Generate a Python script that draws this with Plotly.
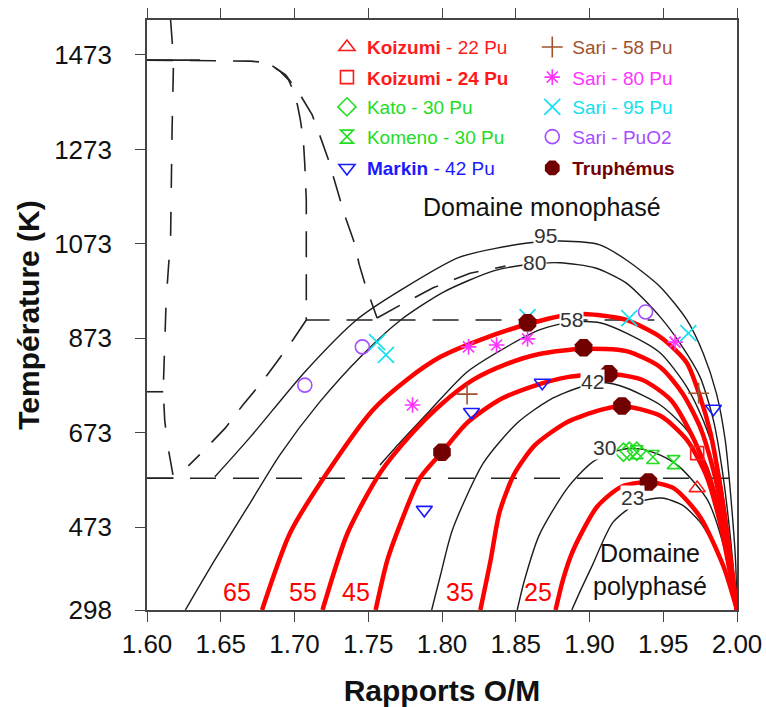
import plotly.graph_objects as go

FONT = "Liberation Sans, Arial, sans-serif"

# ---------------- axes ----------------
x_range = [1.60, 2.00]
t_range = [298, 1547]
x_ticks = [1.60, 1.65, 1.70, 1.75, 1.80, 1.85, 1.90, 1.95, 2.00]
x_ticklabels = ["1.60", "1.65", "1.70", "1.75", "1.80", "1.85", "1.90", "1.95", "2.00"]
t_ticks = [298, 473, 673, 873, 1073, 1273, 1473]
t_ticklabels = ["298", "473", "673", "873", "1073", "1273", "1473"]
t_right_ticks = [609, 922, 1234]

# ---------------- black iso-Pu curves ----------------
iso95_x = [1.646, 1.670, 1.707, 1.742, 1.772, 1.812, 1.858, 1.880, 1.907, 1.925, 1.948, 1.966, 1.977, 1.986, 1.992, 1.996, 1.999, 2.000]
iso95_t = [580, 664, 802, 912, 975, 1045, 1075, 1079, 1071, 1039, 982, 912, 842, 757, 658, 531, 404, 298]
iso80_x = [1.626, 1.646, 1.670, 1.690, 1.717, 1.746, 1.772, 1.801, 1.835, 1.860, 1.880, 1.904, 1.925, 1.948, 1.963, 1.975, 1.984, 1.990, 1.995, 2.000]
iso80_t = [298, 404, 525, 626, 738, 838, 912, 971, 1016, 1030, 1033, 1022, 990, 918, 855, 791, 700, 594, 467, 298]
iso58_x = [1.758, 1.772, 1.792, 1.817, 1.846, 1.866, 1.888, 1.907, 1.925, 1.948, 1.966, 1.977, 1.986, 1.993, 2.000]
iso58_t = [605, 654, 721, 802, 859, 891, 908, 906, 884, 842, 770, 700, 616, 489, 298]
iso42_x = [1.793, 1.799, 1.807, 1.828, 1.851, 1.873, 1.894, 1.911, 1.925, 1.948, 1.966, 1.980, 1.988, 1.995, 2.000]
iso42_t = [298, 372, 467, 609, 694, 743, 770, 779, 768, 732, 679, 601, 510, 404, 298]
iso30_x = [1.851, 1.856, 1.866, 1.885, 1.902, 1.921, 1.934, 1.948, 1.961, 1.980, 1.993, 2.000]
iso30_t = [298, 362, 457, 556, 611, 637, 639, 626, 601, 531, 410, 298]
iso23_x = [1.888, 1.894, 1.902, 1.916, 1.934, 1.949, 1.963, 1.975, 1.986, 1.995, 2.000]
iso23_t = [298, 340, 393, 484, 527, 535, 520, 484, 425, 351, 298]

# ---------------- red curves ----------------
red65_x = [1.678, 1.697, 1.722, 1.753, 1.776, 1.799, 1.826, 1.858, 1.890, 1.907, 1.925, 1.948, 1.966, 1.975, 1.982, 1.988, 1.994, 2.000]
red65_t = [298, 461, 588, 721, 785, 834, 870, 903, 925, 922, 912, 876, 821, 749, 673, 573, 446, 298]
red55_x = [1.719, 1.736, 1.758, 1.780, 1.799, 1.821, 1.844, 1.866, 1.896, 1.925, 1.948, 1.963, 1.975, 1.984, 1.991, 2.000]
red55_t = [298, 461, 588, 673, 732, 785, 819, 840, 851, 846, 812, 757, 685, 594, 489, 298]
red45_x = [1.755, 1.763, 1.772, 1.785, 1.800, 1.817, 1.839, 1.862, 1.885, 1.913, 1.936, 1.955, 1.970, 1.982, 1.990, 2.000]
red45_t = [298, 404, 482, 577, 632, 694, 743, 772, 791, 798, 785, 743, 664, 573, 478, 298]
red35_x = [1.826, 1.833, 1.839, 1.849, 1.863, 1.885, 1.907, 1.922, 1.948, 1.966, 1.979, 1.988, 2.000]
red35_t = [298, 404, 505, 586, 647, 696, 721, 730, 709, 658, 584, 489, 298]
red25_x = [1.877, 1.882, 1.889, 1.905, 1.921, 1.939, 1.957, 1.975, 1.991, 2.000]
red25_t = [298, 362, 425, 516, 558, 569, 556, 495, 389, 298]

# ---------------- dashed phase boundaries ----------------
dashA_x = [1.600, 1.670, 1.677, 1.685, 1.690, 1.696, 1.699, 1.702, 1.704, 1.706, 1.707, 1.708, 1.708, 1.944]
dashA_t = [1462, 1460, 1458, 1450, 1439, 1420, 1399, 1367, 1335, 1293, 1240, 1166, 912, 912]
dashB_x = [1.685, 1.694, 1.704, 1.712, 1.717, 1.723, 1.729, 1.734, 1.740, 1.744, 1.748, 1.753, 1.756]
dashB_t = [1450, 1431, 1388, 1346, 1304, 1251, 1187, 1134, 1081, 1028, 986, 944, 916]
dashC_x = [1.708, 1.699, 1.688, 1.678, 1.665, 1.653, 1.639, 1.628]
dashC_t = [912, 870, 823, 781, 732, 683, 637, 603]
dashD_x = [1.756, 1.772, 1.794, 1.819, 1.843]
dashD_t = [916, 944, 980, 1011, 1026]
dashE_x = [1.616, 1.618, 1.617, 1.616, 1.613, 1.611, 1.612, 1.614, 1.618]
dashE_t = [1547, 1462, 1314, 1088, 954, 764, 700, 647, 577]
dashF_x = [1.600, 1.995]
dashF_t = [577, 577]
stub_x = [[1.600, 1.636], [1.600, 1.611], [1.600, 1.618]]
stub_t = [[1462, 1462], [760, 760], [577, 577]]

# ---------------- experimental points ----------------
koizumi22_x = [1.973]
koizumi22_t = [556]
koizumi24_x = [1.973]
koizumi24_t = [630]
kato30_x = [1.923, 1.927, 1.932]
kato30_t = [632, 634, 634]
komeno30_x = [1.932, 1.943, 1.957]
komeno30_t = [632, 622, 611]
markin42_x = [1.788, 1.820, 1.868, 1.984]
markin42_t = [510, 717, 779, 724]
sari58_x = [1.817, 1.974]
sari58_t = [755, 757]
sari80_x = [1.780, 1.818, 1.837, 1.858, 1.958]
sari80_t = [732, 855, 859, 872, 865]
sari95_x = [1.756, 1.762, 1.858, 1.927, 1.967]
sari95_t = [865, 838, 918, 916, 884]
saripuo2_x = [1.707, 1.746, 1.938]
saripuo2_t = [774, 855, 929]
truphemus_x = [1.800, 1.858, 1.896, 1.913, 1.922, 1.940]
truphemus_t = [632, 906, 853, 798, 730, 569]

# ---------------- labels ----------------
iso_label_text = ["95", "80", "58", "42", "30", "23"]
iso_label_x = [1.870, 1.863, 1.888, 1.902, 1.910, 1.929]
iso_label_t = [1090, 1033, 912, 781, 641, 537]
red_label_text = ["65", "55", "45", "35", "25"]
red_label_x = [1.661, 1.706, 1.742, 1.812, 1.865]
red_label_t = [336, 336, 336, 336, 336]

fig = go.Figure()

BLACK = "#1c1c1c"
for xs, ts in [(iso95_x, iso95_t), (iso80_x, iso80_t), (iso58_x, iso58_t),
               (iso42_x, iso42_t), (iso30_x, iso30_t), (iso23_x, iso23_t)]:
    fig.add_trace(go.Scatter(x=xs, y=ts, mode="lines", showlegend=False, hoverinfo="skip",
                             line=dict(color=BLACK, width=1.4, shape="spline", smoothing=0.7)))

DASH = "26px,17px"
for xs, ts in [(dashA_x, dashA_t), (dashB_x, dashB_t), (dashC_x, dashC_t),
               (dashD_x, dashD_t), (dashF_x, dashF_t)]:
    fig.add_trace(go.Scatter(x=xs, y=ts, mode="lines", showlegend=False, hoverinfo="skip",
                             line=dict(color="#222", width=1.6, dash=DASH)))
fig.add_trace(go.Scatter(x=dashE_x, y=dashE_t, mode="lines", showlegend=False, hoverinfo="skip",
                         line=dict(color="#222", width=1.6, dash="24px,24px")))
for xs, ts in zip(stub_x, stub_t):
    fig.add_trace(go.Scatter(x=xs, y=ts, mode="lines", showlegend=False, hoverinfo="skip",
                             line=dict(color="#222", width=1.6)))

for xs, ts in [(red65_x, red65_t), (red55_x, red55_t), (red45_x, red45_t),
               (red35_x, red35_t), (red25_x, red25_t)]:
    fig.add_trace(go.Scatter(x=xs, y=ts, mode="lines", showlegend=False, hoverinfo="skip",
                             line=dict(color="#ff0000", width=4.5, shape="spline", smoothing=0.7)))

series = [
    ("<b>Koizumi</b> - 22 Pu", koizumi22_x, koizumi22_t, "triangle-up-open", "#ff1a1a", 14),
    ("Sari - 58 Pu", sari58_x, sari58_t, "cross-thin-open", "#a0522d", 15),
    ("<b>Koizumi - 24 Pu</b>", koizumi24_x, koizumi24_t, "square-open", "#ff1a1a", 13),
    ("Sari - 80 Pu", sari80_x, sari80_t, "asterisk-open", "#ff33ff", 13),
    ("Kato - 30 Pu", kato30_x, kato30_t, "diamond-open", "#22dd22", 14),
    ("Sari - 95 Pu", sari95_x, sari95_t, "x-thin-open", "#11e0ee", 16),
    ("Komeno - 30 Pu", komeno30_x, komeno30_t, "hourglass-open", "#22dd22", 13),
    ("Sari - PuO2", saripuo2_x, saripuo2_t, "circle-open", "#a64dff", 14),
    ("<b>Markin</b> - 42 Pu", markin42_x, markin42_t, "triangle-down-open", "#1a1aff", 14),
    ("<b>Truphémus</b>", truphemus_x, truphemus_t, "octagon", "#720000", 19),
]

col_x = [0.305, 0.653]
row_y = [0.954, 0.903, 0.8525, 0.802, 0.749]
legend_layouts = {}
for i, (name, xs, ts, sym, col, size) in enumerate(series):
    lid = "legend" if i == 0 else f"legend{i + 1}"
    filled = not sym.endswith("open")
    fig.add_trace(go.Scatter(
        x=xs, y=ts, mode="markers", name=name, legend=lid, hoverinfo="skip",
        marker=dict(symbol=sym, size=size, color=col,
                    line=dict(color=col, width=0 if filled else 1.6))))
    legend_layouts[lid] = dict(
        x=col_x[i % 2], y=row_y[i // 2], xanchor="left", yanchor="middle",
        bgcolor="rgba(0,0,0,0)", borderwidth=0, itemwidth=30,
        font=dict(family=FONT, size=19, color=col), itemclick=False, itemdoubleclick=False)

annotations = []
for txt, xv, tv in zip(iso_label_text, iso_label_x, iso_label_t):
    annotations.append(dict(x=xv, y=tv, text=txt, showarrow=False, bgcolor="white", borderpad=0,
                            font=dict(family=FONT, size=21, color="#333")))
for txt, xv, tv in zip(red_label_text, red_label_x, red_label_t):
    annotations.append(dict(x=xv, y=tv, text=txt, showarrow=False,
                            font=dict(family=FONT, size=25, color="#ff0000")))
annotations.append(dict(x=1.868, y=1151, text="Domaine monophasé", showarrow=False,
                        font=dict(family=FONT, size=25, color="#111")))
annotations.append(dict(x=1.941, y=383, text="Domaine<br>polyphasé", showarrow=False,
                        font=dict(family=FONT, size=25, color="#111")))

fig.update_layout(
    width=766, height=707,
    margin=dict(l=147, r=29, t=20, b=97),
    paper_bgcolor="white", plot_bgcolor="white",
    font=dict(family=FONT, color="#111"),
    annotations=annotations,
    xaxis=dict(range=x_range, tickvals=x_ticks, ticktext=x_ticklabels, automargin=False,
               showgrid=False, zeroline=False, showline=True, linecolor="#444", linewidth=1.6,
               mirror="ticks", ticks="outside", ticklen=10, tickwidth=1.4, tickcolor="#444",
               tickfont=dict(family=FONT, size=26, color="#111"),
               title=dict(text="<b>Rapports O/M</b>", font=dict(family=FONT, size=30, color="#111"),
                          standoff=22)),
    yaxis=dict(range=t_range, tickvals=t_ticks, ticktext=t_ticklabels, automargin=False,
               showgrid=False, zeroline=False, showline=True, linecolor="#444", linewidth=1.6,
               mirror=True, ticks="outside", ticklen=10, tickwidth=1.4, tickcolor="#444",
               ticklabelstandoff=18,
               tickfont=dict(family=FONT, size=26, color="#111"),
               title=dict(text="<b>Température (K)</b>", font=dict(family=FONT, size=30, color="#111"),
                          standoff=6)),
    yaxis2=dict(range=t_range, overlaying="y", side="right", tickvals=t_right_ticks, automargin=False,
                showticklabels=False, ticks="outside", ticklen=10, tickwidth=1.4, tickcolor="#444",
                showgrid=False, zeroline=False, showline=False),
    **legend_layouts,
)

fig.write_html("out.html", config={"displayModeBar": False},
               post_script="document.body.style.margin='0px';")
